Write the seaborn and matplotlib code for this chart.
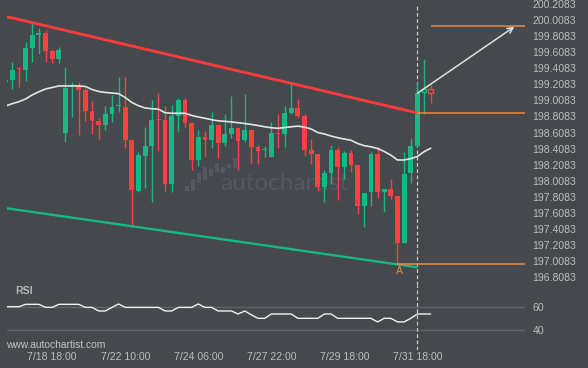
import numpy as np
import pandas as pd
import matplotlib
matplotlib.use("Agg")
import matplotlib.pyplot as plt
import seaborn as sns

# candle data, one 8h candle per index
opens = [199.241, 199.262, 199.408, 199.386, 199.664, 199.822, 199.847, 199.623, 199.527, 198.607,
         199.171, 199.188, 199.138, 198.876, 198.752, 198.702, 198.839, 198.935, 198.926, 198.516,
         197.885, 198.320, 198.445, 198.773, 198.761, 197.969, 198.818, 199.013, 198.731, 198.267,
         198.553, 198.516, 198.702, 198.482, 198.590, 198.661, 198.516, 198.640, 198.425, 198.391,
         198.308, 198.607, 198.587, 198.855, 198.910, 198.814, 198.391, 198.342, 197.928, 198.109,
         198.391, 198.184, 198.358, 198.205, 197.695, 197.873, 198.342, 197.873, 197.906, 197.819,
         197.239, 198.109, 198.441, 199.108, 199.146]
highs = [199.262, 199.482, 199.427, 199.738, 199.980, 199.905, 199.880, 199.639, 199.676, 199.427,
         199.241, 199.241, 199.163, 199.001, 198.786, 198.942, 199.076, 199.303, 199.303, 198.516,
         198.370, 198.674, 199.013, 199.097, 198.939, 198.951, 199.042, 199.034, 198.731, 198.640,
         198.628, 198.860, 198.702, 198.839, 199.063, 198.661, 199.088, 198.640, 198.454, 198.441,
         198.736, 198.835, 198.939, 199.209, 199.026, 198.835, 198.524, 198.342, 198.143, 198.454,
         198.433, 198.379, 198.391, 198.205, 197.860, 198.363, 198.425, 197.906, 198.027, 197.819,
         198.370, 198.545, 199.241, 199.520, 199.200]
lows = [199.241, 199.150, 199.179, 199.253, 199.490, 199.582, 199.482, 199.470, 199.470, 198.487,
        198.806, 198.578, 198.752, 198.587, 198.528, 198.640, 198.736, 198.868, 198.413, 197.437,
        197.873, 197.922, 197.748, 198.379, 197.882, 197.873, 198.612, 198.674, 198.143, 198.196,
        198.308, 198.420, 198.288, 198.441, 198.545, 198.143, 198.495, 198.226, 198.214, 198.308,
        198.300, 198.420, 198.433, 198.835, 198.786, 198.321, 198.214, 197.882, 197.741, 197.969,
        197.770, 198.027, 198.121, 197.592, 197.430, 197.699, 197.798, 197.617, 197.778, 196.974,
        197.230, 197.978, 198.430, 198.840, 198.973]
closes = [199.262, 199.386, 199.395, 199.664, 199.822, 199.843, 199.627, 199.527, 199.635, 199.163,
          199.188, 199.142, 198.880, 198.752, 198.702, 198.839, 198.926, 198.948, 198.516, 197.894,
          198.329, 198.441, 198.761, 198.761, 197.969, 198.814, 199.013, 198.731, 198.267, 198.553,
          198.516, 198.702, 198.482, 198.590, 198.661, 198.507, 198.640, 198.433, 198.383, 198.404,
          198.599, 198.587, 198.848, 198.910, 198.818, 198.391, 198.342, 197.928, 198.109, 198.391,
          198.184, 198.358, 198.205, 197.695, 197.853, 198.342, 197.873, 197.906, 197.819, 197.239,
          198.093, 198.441, 199.097, 199.146, 199.097]
moving_avg = [198.939, 198.968, 198.992, 199.026, 199.076, 199.116, 199.150, 199.169, 199.188, 199.188,
              199.188, 199.188, 199.181, 199.144, 199.119, 199.107, 199.100, 199.092, 199.044, 198.982,
              198.942, 198.914, 198.905, 198.899, 198.855, 198.848, 198.848, 198.848, 198.821, 198.802,
              198.786, 198.768, 198.754, 198.748, 198.740, 198.731, 198.721, 198.709, 198.696, 198.680,
              198.668, 198.661, 198.671, 198.680, 198.688, 198.675, 198.653, 198.609, 198.590, 198.565,
              198.544, 198.528, 198.512, 198.472, 198.445, 198.431, 198.410, 198.373, 198.327, 198.267,
              198.267, 198.283, 198.311, 198.370, 198.413]
rsi = [60, 60, 60, 62, 62, 62, 59.4, 59.4, 62, 62, 62, 62, 59.4, 59.4, 56.3, 56.3, 59.4, 62.3, 59.4, 59.4,
       59.4, 59.4, 59.4, 59.4, 56.3, 56.3, 59.4, 59.4, 59.4, 62.3, 59.4, 59.4, 56.3, 56.3, 56.3, 53.7,
       56.3, 53.0, 50, 50, 53.7, 53.7, 53.7, 53.7, 50, 50, 50, 50, 53.7, 53.7, 50, 50, 50, 50, 50, 50,
       46.9, 50, 50, 46.9, 46.9, 50, 53.7, 53.7, 53.7]

pattern_end = 62
resistance_x = [0.2, 62]
resistance_y = [200.049, 198.852]
support_x = [0.2, 62]
support_y = [197.666, 196.932]
point_a = (59, 196.974)
breakout_level = 198.848
target_level = 199.934
arrow_end = (76.6, 199.925)

price_ticks = np.arange(196.8083, 200.21, 0.2)
date_ticks = [7, 18, 29, 40, 51, 62]
date_labels = ["7/18 18:00", "7/22 10:00", "7/24 06:00", "7/27 22:00", "7/29 18:00", "7/31 18:00"]

# watermark logo bars (relative units)
logo_low = [0, 0, 8, 11, 15, 18, 17, 22, 22]
logo_high = [5, 12, 17, 23, 21, 27, 23, 26, 32]

BG = "#45484d"
GREEN = "#17b982"
RED = "#ff4040"
ORANGE = "#f5873b"
TXT = "#bcbcbc"
MARK = "#54575d"

sns.set_style("dark")
plt.rcParams["font.family"] = ["Liberation Sans", "DejaVu Sans"]

W, H = 588, 368
fig = plt.figure(figsize=(W / 100, H / 100), dpi=100, facecolor=BG)

# faint logo behind the price panel
logo_ax = fig.add_axes([184 / W, 1 - 191 / H, 54 / W, 34 / H], facecolor="none", zorder=0)
logo_ax.bar(np.arange(len(logo_low)), np.subtract(logo_high, logo_low), bottom=logo_low,
            width=0.6, color=MARK, edgecolor="none", linewidth=0)
logo_ax.set_xlim(-0.5, len(logo_low) - 0.5)
logo_ax.set_ylim(0, 33)
logo_ax.axis("off")

ax = fig.add_axes([7 / W, 1 - 285 / H, 518 / W, 285 / H], facecolor="none", zorder=1)
rsi_ax = fig.add_axes([7 / W, 1 - 350 / H, 518 / W, 65 / H], facecolor="none", sharex=ax, zorder=1)

df = pd.DataFrame({"open": opens, "high": highs, "low": lows, "close": closes, "ma": moving_avg, "rsi": rsi})
df["idx"] = np.arange(len(df))
up = df["close"] >= df["open"]
col = np.where(up, GREEN, RED)
hollow = df["idx"] > pattern_end
face = np.where(hollow, BG, col)

ax.text(0.535, 0.355, "autochartist", transform=ax.transAxes, color=MARK, fontsize=17.5,
        ha="center", va="center", family="Lato", zorder=0)

ax.vlines(df["idx"], df["low"], df["high"], colors=col, lw=1, zorder=2)
bottom = df[["open", "close"]].min(axis=1)
height = (df["close"] - df["open"]).abs().clip(lower=0.013)
ax.bar(df["idx"], height, bottom=bottom, width=0.72, color=face, edgecolor=col,
       linewidth=np.where(hollow, 1.0, 0.0), zorder=3)

sns.lineplot(data=df, x="idx", y="ma", ax=ax, color="#e4e4e4", lw=1.2, zorder=4)

ax.plot(resistance_x, resistance_y, color="#ff3b3b", lw=2.0, zorder=5, solid_capstyle="butt")
ax.plot(support_x, support_y, color=GREEN, lw=1.7, zorder=5, solid_capstyle="butt")

ax.hlines(breakout_level, pattern_end, 78.2, color=ORANGE, lw=1.1, zorder=5)
ax.hlines(target_level, len(df) - 1, 78.2, color=ORANGE, lw=1.1, zorder=5)
ax.hlines(point_a[1], point_a[0], 78.2, color=ORANGE, lw=1.1, zorder=5)
ax.text(point_a[0] + 0.3, point_a[1] - 0.085, "A", color=ORANGE, fontsize=7.6, ha="center", va="center")

ax.annotate("", xy=arrow_end, xytext=(pattern_end, closes[pattern_end]),
            arrowprops=dict(arrowstyle="->", color="#e0e0e0", lw=1.1, mutation_scale=10,
                            shrinkA=0, shrinkB=0), zorder=6)

ax.axvline(pattern_end, ymax=281 / 285, color="#c8c8c8", lw=0.9, ls=(0, (3, 2)), zorder=1)
rsi_ax.axvline(pattern_end, color="#c8c8c8", lw=0.9, ls=(0, (3, 2)), zorder=1)

ax.set_xlim(0.2, 78.2)
ax.set_ylim(196.712, 200.257)
ax.yaxis.tick_right()
ax.set_yticks(price_ticks)
ax.set_yticklabels([f"{t:.4f}" for t in price_ticks])
ax.tick_params(axis="y", length=0, pad=5.5, labelsize=7.6, labelcolor=TXT)
ax.tick_params(axis="x", bottom=False, labelbottom=False)
ax.set_xlabel("")
ax.set_ylabel("")
ax.grid(False)

# RSI panel
for lvl in (40, 60):
    rsi_ax.axhline(lvl, color="#5f6267", lw=1, zorder=0)
sns.lineplot(data=df, x="idx", y="rsi", ax=rsi_ax, color="#f0f0f0", lw=1, zorder=3)
rsi_ax.set_ylim(22.8, 78.6)
rsi_ax.yaxis.tick_right()
rsi_ax.set_yticks([40, 60])
rsi_ax.tick_params(axis="y", length=0, pad=5.5, labelsize=7.6, labelcolor=TXT)
rsi_ax.set_xticks(date_ticks)
rsi_ax.set_xticklabels(date_labels)
rsi_ax.tick_params(axis="x", length=0, pad=1.5, labelsize=7.6, labelcolor=TXT)
rsi_ax.set_xlabel("")
rsi_ax.set_ylabel("")
rsi_ax.grid(False)

for a in (ax, rsi_ax):
    for s in a.spines.values():
        s.set_visible(False)

fig.text(15 / W, 1 - 291 / H, "RSI", color="#b4b4b4", fontsize=7.6, fontweight="bold", va="center")
fig.text(6 / W, 1 - 345 / H, "www.autochartist.com", color="#c4c4c4", fontsize=7.4, va="center")

fig.savefig("out.png", dpi=100, facecolor=BG)
